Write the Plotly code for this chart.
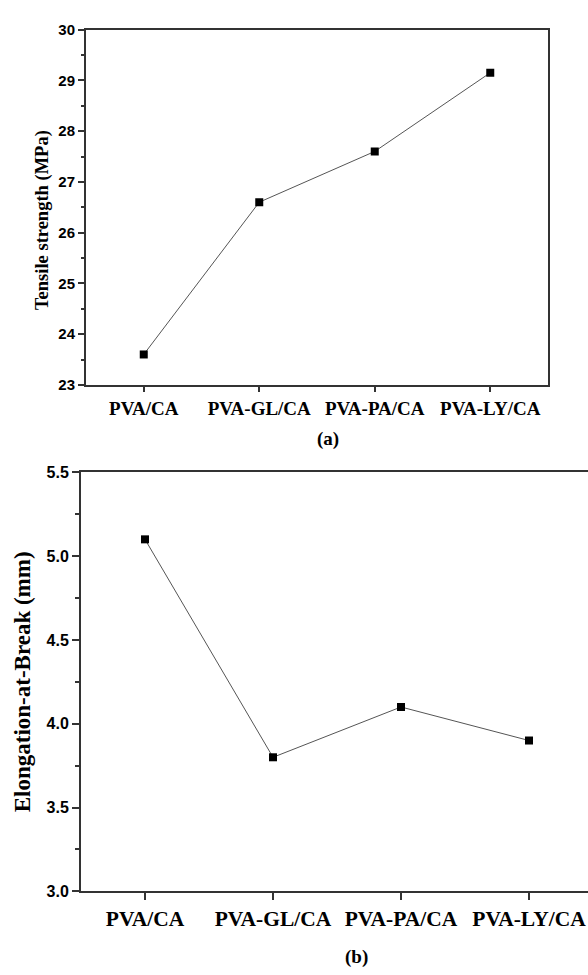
import plotly.graph_objects as go

categories = ["PVA/CA", "PVA-GL/CA", "PVA-PA/CA", "PVA-LY/CA"]
tensile_strength = [23.6, 26.6, 27.6, 29.15]
elongation = [5.1, 3.8, 4.1, 3.9]

W, H = 588, 975

def px_x(p):
    return p / W

def px_y(p):
    return 1 - p / H

fig = go.Figure()

line_style = dict(color="#555555", width=1)
marker_style = dict(symbol="square", size=8, color="black")

fig.add_trace(go.Scatter(x=categories, y=tensile_strength, mode="lines+markers",
                         line=line_style, marker=marker_style, xaxis="x", yaxis="y",
                         showlegend=False))
fig.add_trace(go.Scatter(x=categories, y=elongation, mode="lines+markers",
                         line=line_style, marker=marker_style, xaxis="x2", yaxis="y2",
                         showlegend=False))

serif_bold = dict(family="Liberation Serif", color="black", weight="bold")
sans_bold = dict(family="Liberation Sans", color="black", weight="bold")

axis_common = dict(showline=True, linecolor="#333333", linewidth=2, ticks="outside",
                   tickcolor="#333333", tickwidth=1.5, showgrid=False, zeroline=False)

fig.update_layout(
    width=W, height=H,
    margin=dict(l=0, r=0, t=0, b=0),
    paper_bgcolor="white", plot_bgcolor="white",
    xaxis=dict(domain=[px_x(86), px_x(548)], anchor="y", type="category",
               range=[-0.5, 3.5], mirror=True, ticklen=5,
               tickfont=dict(size=19, **serif_bold), **axis_common),
    yaxis=dict(domain=[px_y(383), px_y(21)], anchor="x", range=[23, 30],
               dtick=1, mirror=True, ticklen=6,
               tickfont=dict(size=15, **sans_bold),
               minor=dict(dtick=0.5, ticks="outside", ticklen=3, tickcolor="#333333", tickwidth=1.5),
               **axis_common),
    xaxis2=dict(domain=[px_x(81), 1], anchor="y2", type="category",
                range=[-0.5, -0.5 + 507 / 128], mirror=True, ticklen=7,
                tickfont=dict(size=21.5, **serif_bold), **axis_common),
    yaxis2=dict(domain=[px_y(899), px_y(472)], anchor="x2", range=[3.0, 5.5],
                dtick=0.5, tickformat=".1f", mirror=False, ticklen=7,
                tickfont=dict(size=16, **sans_bold),
                minor=dict(dtick=0.25, ticks="outside", ticklen=4, tickcolor="#333333", tickwidth=1.5),
                title=dict(text="Elongation-at-Break (mm)", font=dict(size=23, **serif_bold), standoff=9),
                **axis_common),
    annotations=[
        dict(text="Tensile strength (MPa)", x=px_x(42), y=px_y(215), xref="paper", yref="paper",
             xanchor="center", yanchor="middle", textangle=-90,
             showarrow=False, font=dict(size=18.5, **serif_bold)),
        dict(text="(a)", x=px_x(328), y=px_y(438), xref="paper", yref="paper",
             xanchor="center", yanchor="middle",
             showarrow=False, font=dict(size=19, **serif_bold)),
        dict(text="(b)", x=px_x(356), y=px_y(966), xref="paper", yref="paper",
             xanchor="center", yanchor="middle",
             showarrow=False, font=dict(size=19, **serif_bold)),
    ],
)

fig.write_html("out.html")
